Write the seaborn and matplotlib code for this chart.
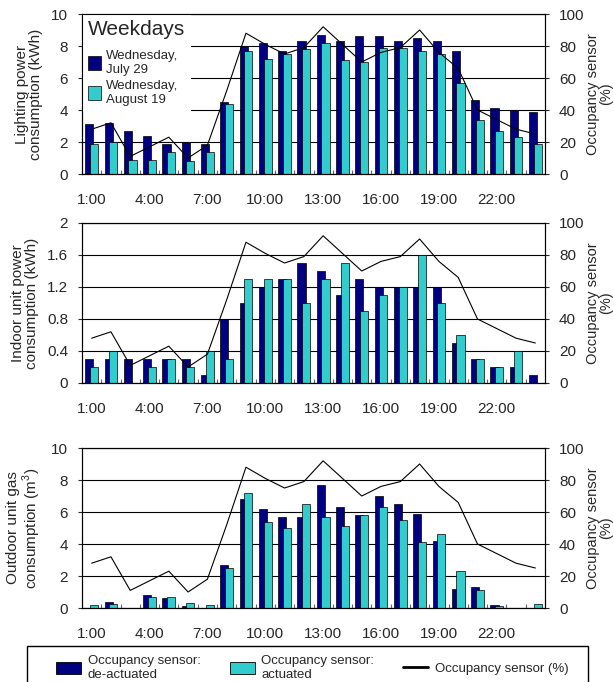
import numpy as np
import pandas as pd
import matplotlib
matplotlib.use('Agg')
import matplotlib.pyplot as plt
from matplotlib.patches import Patch, Rectangle
from matplotlib.lines import Line2D
import seaborn as sns

# hours of the day (1:00 .. 24:00)
hours = np.arange(1, 25)
hour_ticks = [1, 4, 7, 10, 13, 16, 19, 22]
hour_labels = ['1:00', '4:00', '7:00', '10:00', '13:00', '16:00', '19:00', '22:00']

# occupancy sensor (%), same line on every panel
occupancy = [28, 32, 11, 17, 23, 10, 18, 52, 88, 81, 75, 79,
             92, 81, 70, 76, 79, 90, 76, 66, 40, 34, 28, 25]

# lighting power consumption (kWh)
light_off = [3.1, 3.2, 2.7, 2.4, 1.9, 2.0, 1.9, 4.5, 8.0, 8.2, 7.7, 8.3,
             8.7, 8.3, 8.6, 8.6, 8.3, 8.5, 8.3, 7.7, 4.6, 4.1, 4.0, 3.9]
light_on = [1.9, 2.0, 0.9, 0.9, 1.4, 0.8, 1.4, 4.4, 7.7, 7.2, 7.5, 7.8,
            8.2, 7.1, 7.0, 7.9, 7.9, 7.7, 7.5, 5.7, 3.4, 2.7, 2.3, 1.9]

# indoor unit power consumption (kWh)
indoor_off = [0.3, 0.3, 0.3, 0.3, 0.3, 0.3, 0.1, 0.8, 1.0, 1.2, 1.3, 1.5,
              1.4, 1.1, 1.3, 1.2, 1.2, 1.2, 1.2, 0.5, 0.3, 0.2, 0.2, 0.1]
indoor_on = [0.2, 0.4, 0.0, 0.2, 0.3, 0.2, 0.4, 0.3, 1.3, 1.3, 1.3, 1.0,
             1.3, 1.5, 0.9, 1.1, 1.2, 1.6, 1.0, 0.6, 0.3, 0.2, 0.4, 0.0]

# outdoor unit gas consumption (m3)
gas_off = [0.0, 0.35, 0.0, 0.8, 0.6, 0.15, 0.0, 2.7, 6.8, 6.2, 5.7, 5.7,
           7.7, 6.3, 5.8, 7.0, 6.5, 5.9, 4.2, 1.2, 1.3, 0.2, 0.0, 0.0]
gas_on = [0.2, 0.25, 0.0, 0.7, 0.7, 0.3, 0.2, 2.5, 7.2, 5.4, 5.0, 6.5,
          5.7, 5.1, 5.8, 6.3, 5.5, 4.1, 4.6, 2.3, 1.15, 0.15, 0.0, 0.25]

left_ticks = [[0, 2, 4, 6, 8, 10],
              [0, 0.4, 0.8, 1.2, 1.6, 2],
              [0, 2, 4, 6, 8, 10]]
left_ticklabels = [['0', '2', '4', '6', '8', '10'],
                   ['0', '0.4', '0.8', '1.2', '1.6', '2'],
                   ['0', '2', '4', '6', '8', '10']]
right_ticks = [0, 20, 40, 60, 80, 100]
ylabels = ['Lighting power\nconsumption (kWh)',
           'Indoor unit power\nconsumption (kWh)',
           'Outdoor unit gas\nconsumption (m$^3$)']

NAVY = '#000080'
CYAN = '#33CCCC'

sns.set_style('white')
plt.rcParams['font.family'] = ['Liberation Sans', 'DejaVu Sans']
plt.rcParams['mathtext.fontset'] = 'custom'
plt.rcParams['mathtext.rm'] = 'Liberation Sans'

fig = plt.figure(figsize=(6.14, 6.82), dpi=100)
W, H = 614, 682
panel_tops = [14, 223, 448]
ph = 160
series = [(light_off, light_on), (indoor_off, indoor_on), (gas_off, gas_on)]

axes = []
for i, (off, on) in enumerate(series):
    ax = fig.add_axes([82 / W, 1 - (panel_tops[i] + ph) / H, 463 / W, ph / H])
    df = pd.DataFrame({'hour': hours, 'off': off, 'on': on})
    sns.barplot(x=df['hour'] - 0.12, y=df['off'], native_scale=True, width=0.42,
                color=NAVY, saturation=1, edgecolor='black', linewidth=0.5,
                errorbar=None, ax=ax)
    sns.barplot(x=df['hour'] + 0.12, y=df['on'], native_scale=True, width=0.42,
                color=CYAN, saturation=1, edgecolor='black', linewidth=0.5,
                errorbar=None, ax=ax)
    ax.set_xlim(0.5, 24.5)
    ax.set_ylim(left_ticks[i][0], left_ticks[i][-1])
    ax.set_yticks(left_ticks[i])
    ax.set_yticklabels(left_ticklabels[i])
    ax.set_xticks(hour_ticks)
    ax.set_xticklabels(hour_labels)
    ax.set_xticks(np.arange(1.5, 24.5, 1), minor=True)
    ax.tick_params(axis='x', which='major', length=0, pad=14, labelsize=11)
    ax.tick_params(axis='x', which='minor', direction='in', length=3,
                   color='0.4', width=0.8, bottom=True)
    ax.tick_params(axis='y', direction='out', length=3, width=0.8, pad=7,
                   labelsize=11, left=True)
    ax.yaxis.grid(True, color='black', linewidth=0.8)
    ax.set_axisbelow(True)
    ax.set_xlabel('')
    ax.set_ylabel(ylabels[i], fontsize=11, labelpad=6, linespacing=1.0)
    for s in ax.spines.values():
        s.set_color('black')
        s.set_linewidth(0.8)

    axr = ax.twinx()
    sns.lineplot(x=hours, y=occupancy, color='black', linewidth=0.8, ax=axr)
    axr.set_ylim(0, 100)
    axr.set_yticks(right_ticks)
    axr.tick_params(axis='y', direction='out', length=3, width=0.8, pad=7,
                    labelsize=11, right=True)
    axr.set_ylabel('Occupancy sensor\n(%)', fontsize=10.5, labelpad=1,
                   linespacing=0.95)
    for s in axr.spines.values():
        s.set_color('black')
        s.set_linewidth(0.8)
    axes.append(ax)

# panel legend with "Weekdays" title
leg1 = axes[0].legend(
    handles=[Patch(facecolor=NAVY, edgecolor='black', linewidth=0.5),
             Patch(facecolor=CYAN, edgecolor='black', linewidth=0.5)],
    labels=['Wednesday,\nJuly 29', 'Wednesday,\nAugust 19'],
    title='Weekdays', title_fontsize=15, fontsize=9.5, loc='upper left',
    bbox_to_anchor=(0, 1), borderaxespad=0, frameon=True, facecolor='white',
    edgecolor='white', framealpha=1, fancybox=False, alignment='left',
    handlelength=1.0, handleheight=1.25, handletextpad=0.4,
    labelspacing=0.35, borderpad=0.45)
leg1.get_frame().set_linewidth(0)
leg1._legend_box.sep = 8  # gap between title and entries

# bottom legend
fig.add_artist(Rectangle((27 / W, -0.02), 561 / W, (682 - 646) / H + 0.02,
                         transform=fig.transFigure, fill=False,
                         edgecolor='black', linewidth=1))
fig.legend(
    handles=[Patch(facecolor=NAVY, edgecolor='black', linewidth=0.6),
             Patch(facecolor=CYAN, edgecolor='black', linewidth=0.6),
             Line2D([], [], color='black', linewidth=2)],
    labels=['Occupancy sensor:\nde-actuated', 'Occupancy sensor:\nactuated',
            'Occupancy sensor (%)'],
    ncol=3, fontsize=9.5, frameon=False, loc='upper left',
    bbox_to_anchor=(56 / W, 1 - 655 / H), borderaxespad=0, borderpad=0,
    handlelength=1.9, handleheight=1.06, handletextpad=0.5,
    columnspacing=2.2)

fig.savefig('out.png', dpi=100)
